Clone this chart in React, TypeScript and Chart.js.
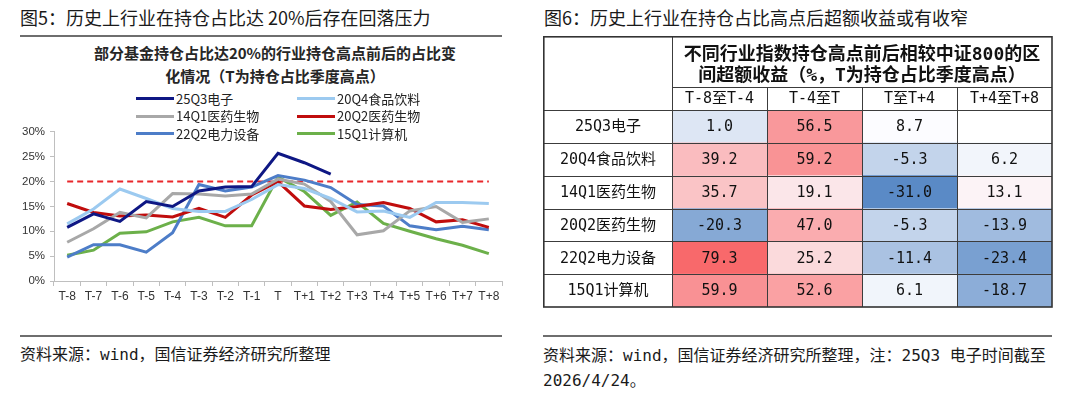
import React, { useEffect, useRef } from "react";
import { Chart, registerables } from "chart.js";

Chart.register(...registerables);

// ---------- Left chart data ----------
const periods = ["T-8", "T-7", "T-6", "T-5", "T-4", "T-3", "T-2", "T-1", "T", "T+1", "T+2", "T+3", "T+4", "T+5", "T+6", "T+7", "T+8"];
const yTickMax = 30;
const yTickStep = 5;
const threshold = [20, 20, 20, 20, 20, 20, 20, 20, 20, 20, 20, 20, 20, 20, 20, 20, 20];
const s25Q3 = [10.8, 13.5, 12.0, 16.0, 15.0, 18.1, 18.9, 19.0, 25.7, 23.8, 21.5, null, null, null, null, null, null];
const s20Q4 = [11.5, 14.5, 18.5, 16.6, 14.6, 14.0, 14.0, 16.4, 19.4, 18.6, 16.6, 13.9, 14.1, 12.8, 15.8, 15.8, 15.6];
const s14Q1 = [7.8, 10.5, 13.8, 12.7, 17.6, 17.5, 17.1, 17.5, 20.5, 19.5, 16.0, 9.3, 10.1, 14.1, 15.0, 11.8, 12.5];
const s20Q2 = [15.6, 13.8, 13.1, 13.3, 12.9, 14.6, 12.8, 17.3, 20.0, 15.1, 14.4, 15.0, 15.8, 14.6, 11.9, 12.3, 10.8];
const s22Q2 = [4.8, 7.3, 7.3, 5.8, 9.7, 19.4, 18.1, 18.9, 21.2, 20.3, 18.8, 15.4, 15.1, 11.1, 10.3, 11.0, 10.3];
const s15Q1 = [5.2, 6.2, 9.6, 9.9, 11.9, 12.8, 11.1, 11.1, 20.9, 18.0, 13.2, 15.9, 11.6, 10.0, 8.5, 7.2, 5.5];

const seriesNames = ["25Q3电子", "20Q4食品饮料", "14Q1医药生物", "20Q2医药生物", "22Q2电力设备", "15Q1计算机"];
const seriesData = [s25Q3, s20Q4, s14Q1, s20Q2, s22Q2, s15Q1];
const seriesColors = ["#0E1784", "#9CCAF0", "#A8A8A8", "#C00D0D", "#4D7DC8", "#6CB04A"];

// ---------- Right table data ----------
const rowNames = ["25Q3电子", "20Q4食品饮料", "14Q1医药生物", "20Q2医药生物", "22Q2电力设备", "15Q1计算机"];
const colNames = ["T-8至T-4", "T-4至T", "T至T+4", "T+4至T+8"];
const headerLines = ["不同行业指数持仓高点前后相较中证800的区", "间超额收益（%，T为持仓占比季度高点）"];
const colA = [1.0, 39.2, 35.7, -20.3, 79.3, 59.9];
const colB = [56.5, 59.2, 19.1, 47.0, 25.2, 52.6];
const colC = [8.7, -5.3, -31.0, -5.3, -11.4, 6.1];
const colD = [null, 6.2, 13.1, -13.9, -23.4, -18.7];
const tableCols = [colA, colB, colC, colD];

const CJK = '"Noto Sans CJK SC", sans-serif';
const MONO_CJK = '"DejaVu Sans Mono", "Noto Sans CJK SC", monospace';

function makeColorScale(values: number[]) {
  const sorted = [...values].sort((a, b) => a - b);
  const min = sorted[0];
  const max = sorted[sorted.length - 1];
  const n = sorted.length;
  const mid = n % 2 ? sorted[(n - 1) / 2] : (sorted[n / 2 - 1] + sorted[n / 2]) / 2;
  const lo = [90, 138, 198];
  const md = [252, 252, 255];
  const hi = [248, 105, 107];
  return (v: number | null) => {
    if (v == null) return "rgba(0,0,0,0)";
    let t: number, target: number[];
    if (v >= mid) {
      t = (v - mid) / (max - mid);
      target = hi;
    } else {
      t = (mid - v) / (mid - min);
      target = lo;
    }
    const c = md.map((m, i) => Math.round(m + (target[i] - m) * t));
    return `rgb(${c[0]},${c[1]},${c[2]})`;
  };
}

function LineChart() {
  const ref = useRef<HTMLCanvasElement | null>(null);
  useEffect(() => {
    if (!ref.current) return;
    const datasets: any[] = seriesNames.map((name, i) => ({
      label: name,
      data: seriesData[i],
      borderColor: seriesColors[i],
      backgroundColor: seriesColors[i],
      borderWidth: 3,
      pointRadius: 0,
      tension: 0,
      spanGaps: false,
      order: i === 0 ? 0 : i + 1,
    }));
    datasets.push({
      label: "20%",
      data: threshold,
      borderColor: "#E8262A",
      borderWidth: 2,
      borderDash: [6, 4],
      pointRadius: 0,
      order: 10,
    });
    const chart = new Chart(ref.current, {
      type: "line",
      data: { labels: periods, datasets },
      options: {
        animation: false,
        responsive: false,
        maintainAspectRatio: false,
        layout: { padding: { top: 10, right: 18, bottom: 0, left: 0 } },
        plugins: { legend: { display: false }, tooltip: { enabled: false }, title: { display: false } },
        scales: {
          x: {
            offset: true,
            grid: { offset: true, drawOnChartArea: false, drawTicks: true, tickLength: 5, color: "#BFBFBF" },
            border: { color: "#BFBFBF", width: 1 },
            ticks: { color: "#333", font: { family: '"Liberation Sans", Arial, sans-serif', size: 12 }, padding: 3, maxRotation: 0, autoSkip: false },
            afterFit: (s: any) => { s.height = 39; },
          },
          y: {
            min: 0,
            max: yTickMax,
            ticks: {
              stepSize: yTickStep,
              color: "#333",
              font: { family: '"Liberation Sans", Arial, sans-serif', size: 11.5 },
              padding: 5,
              callback: (v: any) => v + "%",
            },
            grid: { drawOnChartArea: false, drawTicks: true, tickLength: 4, color: "#BFBFBF" },
            border: { color: "#BFBFBF", width: 1 },
            afterFit: (s: any) => { s.width = 54; },
          },
        },
      },
    });
    return () => chart.destroy();
  }, []);
  return <canvas ref={ref} width={520} height={200} style={{ position: "absolute", left: 0, top: 120, width: 520, height: 200 }} />;
}

function TableChart() {
  const ref = useRef<HTMLCanvasElement | null>(null);
  useEffect(() => {
    if (!ref.current) return;
    const allVals: number[] = [];
    tableCols.forEach((col) => col.forEach((v) => { if (v != null) allVals.push(v as number); }));
    const colorOf = makeColorScale(allVals);

    const datasets = tableCols.map((col, c) => ({
      label: colNames[c],
      data: col.map((v) => (v == null ? null : [c, c + 1])),
      backgroundColor: col.map((v) => colorOf(v as any)),
      borderWidth: 0,
      barPercentage: 1,
      categoryPercentage: 1,
      grouped: false,
    }));

    const tablePlugin = {
      id: "tableDecor",
      afterDatasetsDraw(chart: any) {
        const ctx = chart.ctx as CanvasRenderingContext2D;
        const area = chart.chartArea;
        const xs = chart.scales.x;
        const ys = chart.scales.y;
        const band = ys.getPixelForValue(1) - ys.getPixelForValue(0);
        ctx.save();
        // cell values
        ctx.fillStyle = "#111";
        ctx.textAlign = "center";
        ctx.textBaseline = "middle";
        ctx.font = `15px ${MONO_CJK}`;
        chart.data.datasets.forEach((ds: any, di: number) => {
          const meta = chart.getDatasetMeta(di);
          meta.data.forEach((el: any, ri: number) => {
            const v = tableCols[di][ri];
            if (v == null) return;
            const p = el.getCenterPoint();
            ctx.fillText((v as number).toFixed(1), p.x, p.y + 1);
          });
        });
        // row labels
        rowNames.forEach((name, i) => {
          ctx.fillText(name, area.left / 2 + 0.5, ys.getPixelForValue(i) + 1);
        });
        // sub headers
        const splitY = area.top - 23;
        colNames.forEach((name, c) => {
          const cx = (xs.getPixelForValue(c) + xs.getPixelForValue(c + 1)) / 2;
          ctx.fillText(name, cx, (splitY + area.top) / 2 + 1);
        });
        // header
        ctx.font = `bold 18px ${MONO_CJK}`;
        const hx = (area.left + area.right) / 2;
        ctx.fillText(headerLines[0], hx, splitY - 32);
        ctx.fillText(headerLines[1], hx, splitY - 11);
        // borders
        ctx.strokeStyle = "#3c3c3c";
        ctx.lineWidth = 1;
        const r = (v: number) => Math.round(v) + 0.5;
        ctx.beginPath();
        // header split line
        ctx.moveTo(area.left, r(splitY));
        ctx.lineTo(area.right, r(splitY));
        // header bottom
        ctx.moveTo(0, r(area.top));
        ctx.lineTo(area.right, r(area.top));
        // row lines
        for (let i = 0; i < rowNames.length - 1; i++) {
          const y = r(ys.getPixelForValue(i) + band / 2);
          ctx.moveTo(0, y);
          ctx.lineTo(area.right, y);
        }
        // column lines
        const x0 = r(xs.getPixelForValue(0));
        ctx.moveTo(x0, 0);
        ctx.lineTo(x0, area.bottom);
        for (let c = 1; c < colNames.length; c++) {
          const x = r(xs.getPixelForValue(c));
          ctx.moveTo(x, splitY);
          ctx.lineTo(x, area.bottom);
        }
        ctx.stroke();
        // outer border
        ctx.lineWidth = 1.6;
        ctx.strokeStyle = "#333";
        ctx.strokeRect(0.8, 0.8, area.right - 0.8, area.bottom - 0.8);
        ctx.restore();
      },
    };

    const chart = new Chart(ref.current, {
      type: "bar",
      data: { labels: rowNames, datasets: datasets as any },
      options: {
        indexAxis: "y",
        animation: false,
        responsive: false,
        maintainAspectRatio: false,
        layout: { padding: { top: 74, right: 1, bottom: 1, left: 129 } },
        plugins: { legend: { display: false }, tooltip: { enabled: false } },
        scales: {
          x: { type: "linear", min: 0, max: colNames.length, display: false },
          y: { type: "category", display: false, offset: true },
        },
      },
      plugins: [tablePlugin],
    });
    return () => chart.destroy();
  }, []);
  return <canvas ref={ref} width={510} height={272} style={{ position: "absolute", left: 543, top: 36, width: 510, height: 272 }} />;
}

export default function App() {
  const legendPos = [
    { x: 136, y: 98.5 },
    { x: 297, y: 98.5 },
    { x: 136, y: 116 },
    { x: 297, y: 116 },
    { x: 136, y: 133.5 },
    { x: 297, y: 133.5 },
  ];
  const sepStyle = (left: number, width: number): React.CSSProperties => ({
    position: "absolute", left, top: 335, width, height: 2, background: "#6e6e6e",
  });
  return (
    <div style={{ position: "absolute", left: 0, top: 0, width: 1080, height: 395, background: "#fff", overflow: "hidden", fontFamily: CJK, color: "#1a1a1a" }}>
      {/* Left panel */}
      <div style={{ position: "absolute", left: 20, top: 7, fontSize: 18, lineHeight: "20px", whiteSpace: "nowrap" }}>
        图5：历史上行业在持仓占比达 20%后存在回落压力
      </div>
      <div style={{ position: "absolute", left: 20, top: 35, width: 482, height: 2, background: "#6e6e6e" }} />
      <div style={{ position: "absolute", left: 60, top: 40.5, width: 430, textAlign: "center", fontWeight: "bold", fontSize: 15, lineHeight: "23px", color: "#262626" }}>
        部分基金持仓占比达20%的行业持仓高点前后的占比变
        <br />
        化情况（T为持仓占比季度高点）
      </div>
      <LineChart />
      {seriesNames.map((name, i) => (
        <div key={name} style={{ position: "absolute", left: legendPos[i].x, top: legendPos[i].y - 9, height: 18, display: "flex", alignItems: "center", whiteSpace: "nowrap", zIndex: 2 }}>
          <div style={{ width: 38, height: 3, background: seriesColors[i] }} />
          <span style={{ marginLeft: 2, fontSize: 13, lineHeight: "18px", color: "#222" }}>{name}</span>
        </div>
      ))}
      <div style={sepStyle(20, 482)} />
      <div style={{ position: "absolute", left: 20, top: 345, fontSize: 16, lineHeight: "20px", fontFamily: MONO_CJK, whiteSpace: "nowrap" }}>
        资料来源：wind，国信证券经济研究所整理
      </div>

      {/* Right panel */}
      <div style={{ position: "absolute", left: 544, top: 7, fontSize: 18, lineHeight: "20px", whiteSpace: "nowrap" }}>
        图6：历史上行业在持仓占比高点后超额收益或有收窄
      </div>
      <TableChart />
      <div style={sepStyle(543, 509)} />
      <div style={{ position: "absolute", left: 543, top: 343, fontSize: 16, lineHeight: "25px", fontFamily: MONO_CJK, whiteSpace: "nowrap" }}>
        资料来源：wind，国信证券经济研究所整理，注：25Q3 电子时间截至
        <br />
        2026/4/24。
      </div>
    </div>
  );
}
